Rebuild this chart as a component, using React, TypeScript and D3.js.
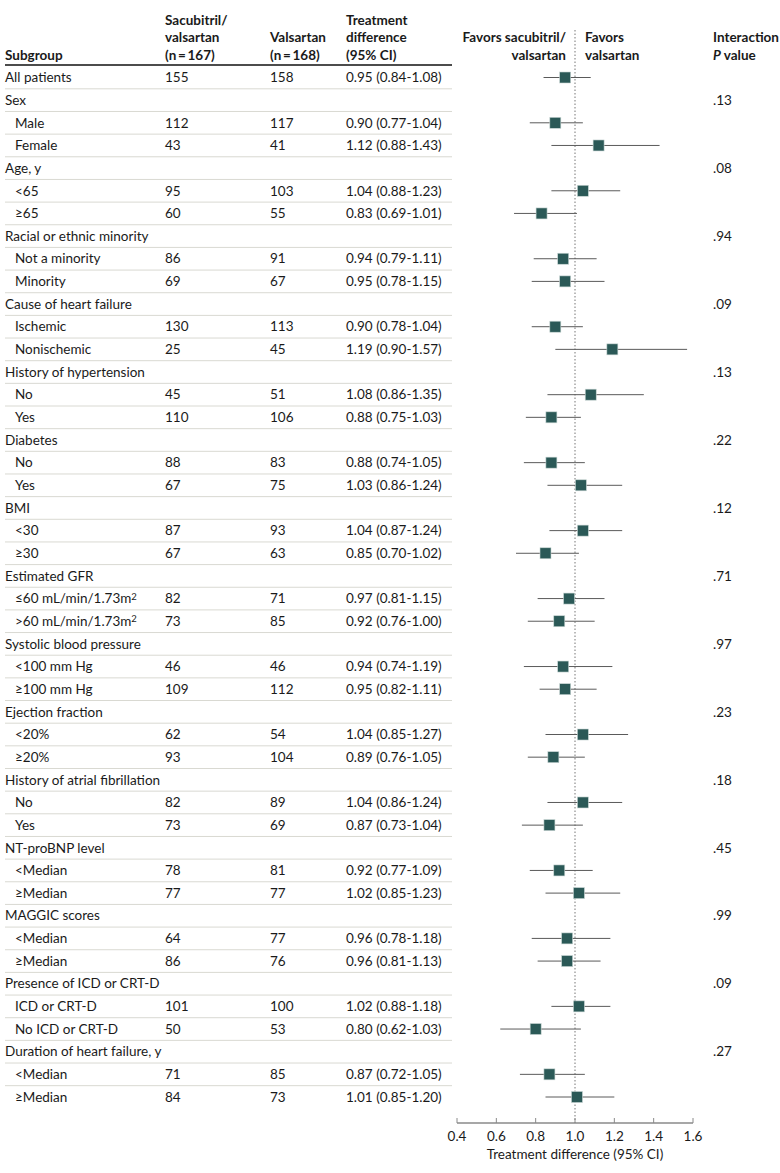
import * as d3 from "d3";

// rows: label, indent flag, numbers, estimate text, CI, P value
const labels = [
  "All patients", "Sex", "Male", "Female", "Age, y", "<65", "≥65",
  "Racial or ethnic minority", "Not a minority", "Minority",
  "Cause of heart failure", "Ischemic", "Nonischemic",
  "History of hypertension", "No", "Yes",
  "Diabetes", "No", "Yes",
  "BMI", "<30", "≥30",
  "Estimated GFR", "≤60 mL/min/1.73m|2", ">60 mL/min/1.73m|2",
  "Systolic blood pressure", "<100 mm Hg", "≥100 mm Hg",
  "Ejection fraction", "<20%", "≥20%",
  "History of atrial fibrillation", "No", "Yes",
  "NT-proBNP level", "<Median", "≥Median",
  "MAGGIC scores", "<Median", "≥Median",
  "Presence of ICD or CRT-D", "ICD or CRT-D", "No ICD or CRT-D",
  "Duration of heart failure, y", "<Median", "≥Median",
];
const isGroup = [
  false, true, false, false, true, false, false,
  true, false, false, true, false, false, true, false, false,
  true, false, false, true, false, false, true, false, false,
  true, false, false, true, false, false, true, false, false,
  true, false, false, true, false, false, true, false, false,
  true, false, false,
];
const nSacVal = [155, null, 112, 43, null, 95, 60, null, 86, 69, null, 130, 25, null, 45, 110, null, 88, 67, null, 87, 67, null, 82, 73, null, 46, 109, null, 62, 93, null, 82, 73, null, 78, 77, null, 64, 86, null, 101, 50, null, 71, 84];
const nVal = [158, null, 117, 41, null, 103, 55, null, 91, 67, null, 113, 45, null, 51, 106, null, 83, 75, null, 93, 63, null, 71, 85, null, 46, 112, null, 54, 104, null, 89, 69, null, 81, 77, null, 77, 76, null, 100, 53, null, 85, 73];
const estText = [
  "0.95 (0.84-1.08)", "", "0.90 (0.77-1.04)", "1.12 (0.88-1.43)", "", "1.04 (0.88-1.23)", "0.83 (0.69-1.01)",
  "", "0.94 (0.79-1.11)", "0.95 (0.78-1.15)", "", "0.90 (0.78-1.04)", "1.19 (0.90-1.57)",
  "", "1.08 (0.86-1.35)", "0.88 (0.75-1.03)", "", "0.88 (0.74-1.05)", "1.03 (0.86-1.24)",
  "", "1.04 (0.87-1.24)", "0.85 (0.70-1.02)", "", "0.97 (0.81-1.15)", "0.92 (0.76-1.00)",
  "", "0.94 (0.74-1.19)", "0.95 (0.82-1.11)", "", "1.04 (0.85-1.27)", "0.89 (0.76-1.05)",
  "", "1.04 (0.86-1.24)", "0.87 (0.73-1.04)", "", "0.92 (0.77-1.09)", "1.02 (0.85-1.23)",
  "", "0.96 (0.78-1.18)", "0.96 (0.81-1.13)", "", "1.02 (0.88-1.18)", "0.80 (0.62-1.03)",
  "", "0.87 (0.72-1.05)", "1.01 (0.85-1.20)",
];
const est = [0.95, null, 0.90, 1.12, null, 1.04, 0.83, null, 0.94, 0.95, null, 0.90, 1.19, null, 1.08, 0.88, null, 0.88, 1.03, null, 1.04, 0.85, null, 0.97, 0.92, null, 0.94, 0.95, null, 1.04, 0.89, null, 1.04, 0.87, null, 0.92, 1.02, null, 0.96, 0.96, null, 1.02, 0.80, null, 0.87, 1.01];
const ciLo = [0.84, null, 0.77, 0.88, null, 0.88, 0.69, null, 0.79, 0.78, null, 0.78, 0.90, null, 0.86, 0.75, null, 0.74, 0.86, null, 0.87, 0.70, null, 0.81, 0.76, null, 0.74, 0.82, null, 0.85, 0.76, null, 0.86, 0.73, null, 0.77, 0.85, null, 0.78, 0.81, null, 0.88, 0.62, null, 0.72, 0.85];
const ciHi = [1.08, null, 1.04, 1.43, null, 1.23, 1.01, null, 1.11, 1.15, null, 1.04, 1.57, null, 1.35, 1.03, null, 1.05, 1.24, null, 1.24, 1.02, null, 1.15, 1.10, null, 1.19, 1.11, null, 1.27, 1.05, null, 1.24, 1.04, null, 1.09, 1.23, null, 1.18, 1.13, null, 1.18, 1.03, null, 1.05, 1.20];
const pValue = ["", ".13", "", "", ".08", "", "", ".94", "", "", ".09", "", "", ".13", "", "", ".22", "", "", ".12", "", "", ".71", "", "", ".97", "", "", ".23", "", "", ".18", "", "", ".45", "", "", ".99", "", "", ".09", "", "", ".27", "", ""];
const xTicks = [0.4, 0.6, 0.8, 1.0, 1.2, 1.4, 1.6];

const FONT = "Lato, 'Open Sans', sans-serif";
const W = 780;
const H = 1173;

function Label({ text, x, y }: { text: string; x: number; y: number }) {
  const [main, sup] = text.split("|");
  return (
    <text x={x} y={y} dy="0.35em">
      {main}
      {sup && (
        <tspan dy="-0.4em" fontSize="9.5">
          {sup}
        </tspan>
      )}
    </text>
  );
}

export default function App() {
  const idx = labels.map((_, i) => i);
  const y = d3.scalePoint<number>().domain(idx).range([77.5, 1097]);
  const x = d3.scaleLinear().domain([0.4, 1.6]).range([457, 693]);
  const axisY = 1123;
  const rowH = y.step();

  const colX = { sub: 5, sac: 165, val: 270, est: 346, p: 713 };

  return (
    <svg
      width={W}
      height={H}
      style={{ position: "absolute", left: 0, top: 0, background: "#fff" }}
      fontFamily={FONT}
      fontSize="13.5"
      fill="#1a1a1a"
    >
      {/* header */}
      <g fontWeight="bold">
        <text x={colX.sub} y={55} dy="0.35em">Subgroup</text>
        <text x={colX.sac} y={20} dy="0.35em">Sacubitril/</text>
        <text x={colX.sac} y={37.5} dy="0.35em">valsartan</text>
        <text x={colX.sac} y={55} dy="0.35em">(n{"\u2009=\u2009"}167)</text>
        <text x={colX.val} y={37.5} dy="0.35em">Valsartan</text>
        <text x={colX.val} y={55} dy="0.35em">(n{"\u2009=\u2009"}168)</text>
        <text x={colX.est} y={20} dy="0.35em">Treatment</text>
        <text x={colX.est} y={37.5} dy="0.35em">difference</text>
        <text x={colX.est} y={55} dy="0.35em">(95% CI)</text>
        <text x={566} y={37.5} dy="0.35em" textAnchor="end">Favors sacubitril/</text>
        <text x={566} y={55} dy="0.35em" textAnchor="end">valsartan</text>
        <text x={585} y={37.5} dy="0.35em">Favors</text>
        <text x={585} y={55} dy="0.35em">valsartan</text>
        <text x={colX.p} y={37.5} dy="0.35em">Interaction</text>
        <text x={colX.p} y={55} dy="0.35em">
          <tspan fontStyle="italic">P</tspan> value
        </text>
      </g>
      <line x1={5} x2={452} y1={65} y2={65} stroke="#111" strokeWidth={1.3} />

      {/* row separators */}
      {idx.slice(0, -1).map((i) => (
        <line
          key={"sep" + i}
          x1={5}
          x2={452}
          y1={y(i)! + rowH / 2}
          y2={y(i)! + rowH / 2}
          stroke="#d9d9d2"
          strokeWidth={1}
        />
      ))}

      {/* table text */}
      {idx.map((i) => (
        <g key={"row" + i}>
          <Label text={labels[i]} x={isGroup[i] || i === 0 ? colX.sub : colX.sub + 10} y={y(i)!} />
          {nSacVal[i] != null && (
            <text x={colX.sac} y={y(i)!} dy="0.35em">{nSacVal[i]}</text>
          )}
          {nVal[i] != null && (
            <text x={colX.val} y={y(i)!} dy="0.35em">{nVal[i]}</text>
          )}
          {estText[i] && (
            <text x={colX.est} y={y(i)!} dy="0.35em">{estText[i]}</text>
          )}
          {pValue[i] && (
            <text x={colX.p} y={y(i)!} dy="0.35em">{pValue[i]}</text>
          )}
        </g>
      ))}

      {/* reference line */}
      <line
        x1={x(1)}
        x2={x(1)}
        y1={30}
        y2={axisY}
        stroke="#777"
        strokeWidth={1}
        strokeDasharray="1.5,2"
      />

      {/* CIs and points */}
      {idx
        .filter((i) => est[i] != null)
        .map((i) => (
          <g key={"pt" + i}>
            <line
              x1={x(ciLo[i]!)}
              x2={x(ciHi[i]!)}
              y1={y(i)!}
              y2={y(i)!}
              stroke="#5a5a5a"
              strokeWidth={1}
            />
            <rect
              x={x(est[i]!) - 5.5}
              y={y(i)! - 5.5}
              width={11}
              height={11}
              fill="#2b5957"
              stroke="#c9d6d4"
              strokeWidth={0.6}
            />
          </g>
        ))}

      {/* axis */}
      <g>
        <line x1={x(0.4)} x2={x(1.6)} y1={axisY} y2={axisY} stroke="#8a8a8a" strokeWidth={1.5} />
        {xTicks.map((t) => (
          <g key={"t" + t}>
            <line x1={x(t)} x2={x(t)} y1={axisY - 5} y2={axisY} stroke="#8a8a8a" strokeWidth={1} />
            <text x={x(t)} y={axisY + 13} dy="0.35em" textAnchor="middle">
              {t.toFixed(1)}
            </text>
          </g>
        ))}
        <text x={x(1)} y={axisY + 31} dy="0.35em" textAnchor="middle">
          Treatment difference (95% CI)
        </text>
      </g>
    </svg>
  );
}
